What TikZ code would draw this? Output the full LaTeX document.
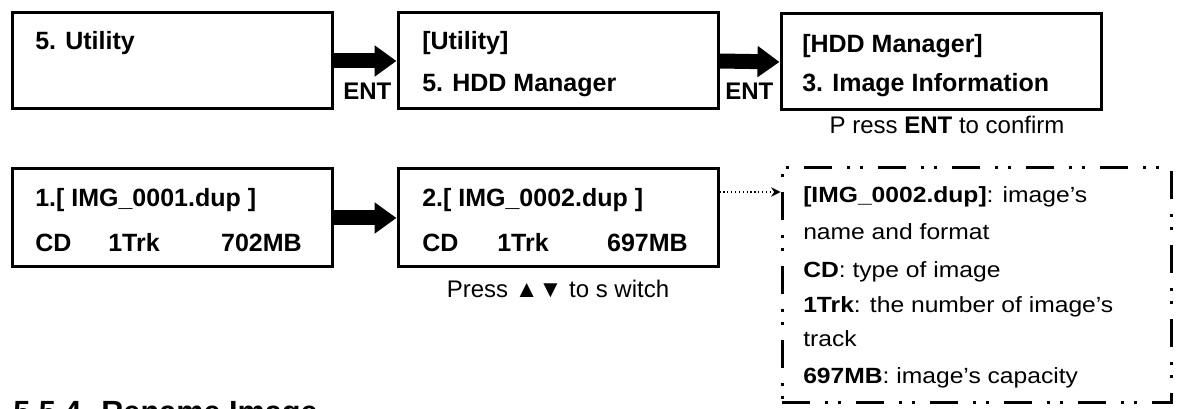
\documentclass[tikz,border=0pt]{standalone}
\usepackage{fontspec}
\setmainfont{Liberation Sans}
\newfontfamily\widefont[FakeStretch=1.12]{Liberation Sans}
\usetikzlibrary{arrows.meta}
\tikzset{
  x=0.75pt, y=-0.75pt,
  lcd/.style={draw, line width=2.25pt, minimum width=240pt, minimum height=72pt, inner sep=0pt},
  lcdtxt/.style={font=\bfseries\fontsize{18.75pt}{22pt}\selectfont, anchor=base west, inner sep=0pt},
  lcdtxtr/.style={lcdtxt, anchor=base east},
  enttxt/.style={font=\bfseries\fontsize{18pt}{22pt}\selectfont, anchor=base west, inner sep=0pt},
  hint/.style={font=\fontsize{18pt}{22pt}\selectfont, anchor=base, inner sep=0pt},
  note/.style={font=\widefont\fontsize{16.5pt}{20pt}\selectfont, anchor=base west, inner sep=0pt},
  infobox/.style={draw, line width=2.25pt, dash pattern=on 21pt off 11.25pt on 2.25pt off 7.5pt on 2.25pt off 11.25pt, minimum width=291.75pt, minimum height=175.5pt, inner sep=0pt},
  blockarrow/.style={line width=11.25pt, -{Triangle[length=16.5pt,width=22.5pt]}},
  thinarrow/.style={line width=0.9pt, dotted, -{Stealth[length=7pt,width=7pt]}},
}
\begin{document}
\begin{tikzpicture}
\useasboundingbox (0,0) rectangle (1181,409);
\fill[white] (0,0) rectangle (1181,409);
\clip (0,0) rectangle (1181,409);

% top row
\node[lcd] (b1) at (172,61) {};
\node[lcd] (b2) at (558,61) {};
\node[lcd] (b3) at (941,62) {};
\node[lcdtxt] (t1) at (35,50) {5. Utility};
\node[lcdtxt] (t2a) at (422,50) {[Utility]};
\node[lcdtxt] (t2b) at (422,92) {5. HDD Manager};
\node[lcdtxt] (t3a) at (802,53) {[HDD Manager]};
\node[lcdtxt] (t3b) at (802,92) {3. Image Information};
\draw[blockarrow] (b1.east) -- (b2.west);
\draw[blockarrow] (b2.east) -- (b3.west);
\node[enttxt] (e1) at (343,100) {ENT};
\node[enttxt] (e2) at (725,100) {ENT};
\node[hint] (h1) at (947,134) {P ress \textbf{ENT} to confirm};

% bottom row
\node[lcd, minimum height=73.5pt] (b4) at (172,218) {};
\node[lcd, minimum height=73.5pt] (b5) at (558,218) {};
\node[lcdtxt] (t4a) at (35,207) {1.[ IMG\_0001.dup ]};
\node[lcdtxt] (t4b) at (35,252) {CD};
\node[lcdtxt] (t4c) at (108,252) {1Trk};
\node[lcdtxtr] (t4d) at (302,252) {702MB};
\node[lcdtxt] (t5a) at (422,207) {2.[ IMG\_0002.dup ]};
\node[lcdtxt] (t5b) at (422,252) {CD};
\node[lcdtxt] (t5c) at (497,252) {1Trk};
\node[lcdtxtr] (t5d) at (688,252) {697MB};
\draw[blockarrow] (b4.east) -- (b5.west);
\node[hint] (h2) at (558,298) {Press ▲▼ to s witch};

% info box
\node[infobox] (info) at (976.5,285) {};
\draw[thinarrow] ([yshift=19.5pt]b5.east) -- ([yshift=19.5pt]b5.east -| info.west);
\node[note] (n1) at (803,203) {\textbf{[IMG\_0002.dup]}: image’s};
\node[note] (n2) at (803,240) {name and format};
\node[note] (n3) at (803,278) {\textbf{CD}: type of image};
\node[note] (n4) at (803,313) {\textbf{1Trk}: the number of image’s};
\node[note] (n5) at (803,347) {track};
\node[note] (n6) at (803,383) {\textbf{697MB}: image’s capacity};

% cut-off heading
\node[font=\bfseries\fontsize{23pt}{27pt}\selectfont, anchor=base west, inner sep=0pt] (hd) at (13,422) {5.5.4. Rename Image};
\end{tikzpicture}
\end{document}
